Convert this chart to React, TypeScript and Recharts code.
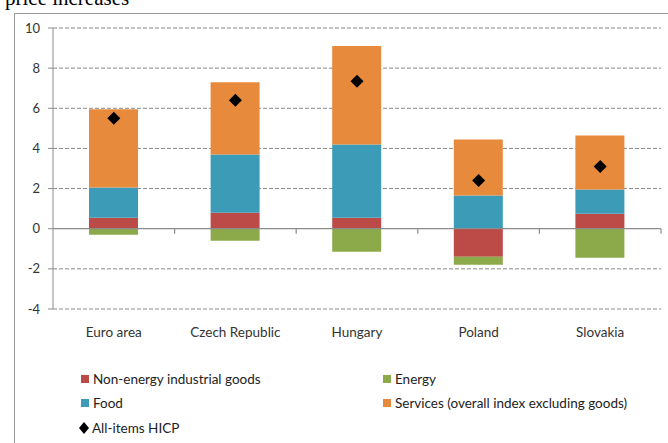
import {
	ComposedChart,
	Bar,
	Line,
	XAxis,
	YAxis,
	CartesianGrid,
	ReferenceLine,
} from "recharts";

const countries = ["Euro area", "Czech Republic", "Hungary", "Poland", "Slovakia"];
const nonEnergy = [0.55, 0.8, 0.55, -1.4, 0.75];
const energy = [-0.3, -0.6, -1.15, -0.4, -1.45];
const food = [1.5, 2.9, 3.65, 1.65, 1.2];
const services = [3.9, 3.6, 4.9, 2.8, 2.7];
const hicp = [5.5, 6.4, 7.35, 2.4, 3.1];
const yTicks = [-4, -2, 0, 2, 4, 6, 8, 10];
const boundaries = [1, 2, 3, 4, 5];

const colors = {
	nonEnergy: "#BC4A47",
	energy: "#8DAA4A",
	food: "#3C9CB8",
	services: "#E88A3C",
	axis: "#8c8c8c",
	text: "#333333",
};

const data = countries.map((name, i) => ({
	name,
	idx: i + 0.5,
	nonEnergy: nonEnergy[i],
	energy: energy[i],
	food: food[i],
	services: services[i],
	hicp: hicp[i],
}));

const font = "Lato, 'Open Sans', sans-serif";

const Diamond = (props: any) => {
	const { cx, cy } = props;
	if (cx == null || cy == null) return null;
	const r = 6.5;
	return (
		<polygon
			points={`${cx},${cy - r} ${cx + r},${cy} ${cx},${cy + r} ${cx - r},${cy}`}
			fill="#000"
		/>
	);
};

const legendItems = [
	{ label: "Non-energy industrial goods", color: colors.nonEnergy, x: 81, y: 380 },
	{ label: "Energy", color: colors.energy, x: 383, y: 380 },
	{ label: "Food", color: colors.food, x: 81, y: 404 },
	{ label: "Services (overall index excluding goods)", color: colors.services, x: 383, y: 404 },
];

export default function App() {
	return (
		<div
			style={{
				position: "absolute",
				left: 0,
				top: 0,
				width: 668,
				height: 443,
				overflow: "hidden",
				background: "#fff",
			}}
		>
			<div
				style={{
					position: "absolute",
					left: 5,
					top: -14,
					fontFamily: "'Liberation Serif', serif",
					fontSize: 21,
					color: "#000",
				}}
			>
				price increases
			</div>
			<div
				style={{
					position: "absolute",
					left: 14,
					top: 13,
					width: 700,
					height: 480,
					border: "1.5px solid #9a9a9a",
					boxSizing: "border-box",
				}}
			/>
			<div style={{ position: "absolute", left: 0, top: 0 }}>
				<ComposedChart
					width={668}
					height={443}
					data={data}
					stackOffset="sign"
					margin={{ top: 28, right: 7, left: 0, bottom: 104 }}
				>
					<CartesianGrid
						horizontal
						vertical={false}
						stroke="#8a8a8a"
						strokeDasharray="4 2"
						horizontalValues={[-4, -2, 2, 4, 6, 8, 10]}
					/>
					<XAxis
						dataKey="name"
						axisLine={false}
						tickLine={false}
						height={30}
						tick={{ fill: colors.text, fontSize: 13.5, fontFamily: font }}
						dy={10}
						interval={0}
					/>
					<XAxis xAxisId="num" type="number" dataKey="idx" domain={[0, 5]} hide />
					<YAxis
						width={53}
						domain={[-4, 10]}
						ticks={yTicks}
						interval={0}
						stroke={colors.axis}
						tickSize={5}
						tickMargin={8}
						tick={{ fill: colors.text, fontSize: 13, fontFamily: font }}
					/>
					<ReferenceLine y={0} stroke={colors.axis} strokeWidth={1.2} />
					{boundaries.map((b) => (
						<ReferenceLine
							key={b}
							xAxisId="num"
							segment={[
								{ x: b, y: 0 },
								{ x: b, y: -0.25 },
							]}
							stroke={colors.axis}
							strokeWidth={1.2}
						/>
					))}
					<Bar dataKey="nonEnergy" stackId="a" fill={colors.nonEnergy} barSize={49} isAnimationActive={false} />
					<Bar dataKey="energy" stackId="a" fill={colors.energy} barSize={49} isAnimationActive={false} />
					<Bar dataKey="food" stackId="a" fill={colors.food} barSize={49} isAnimationActive={false} />
					<Bar dataKey="services" stackId="a" fill={colors.services} barSize={49} isAnimationActive={false} />
					<Line
						dataKey="hicp"
						stroke="none"
						dot={<Diamond />}
						activeDot={false}
						isAnimationActive={false}
					/>
				</ComposedChart>
			</div>
			{legendItems.map((item) => (
				<div
					key={item.label}
					style={{
						position: "absolute",
						left: item.x,
						top: item.y - 9,
						display: "flex",
						alignItems: "center",
						fontFamily: font,
						fontSize: 13.5,
						color: "#222",
					}}
				>
					<span
						style={{
							display: "inline-block",
							width: 8,
							height: 8,
							background: item.color,
							marginRight: 4,
						}}
					/>
					{item.label}
				</div>
			))}
			<div
				style={{
					position: "absolute",
					left: 79,
					top: 420,
					display: "flex",
					alignItems: "center",
					fontFamily: font,
					fontSize: 13.5,
					color: "#222",
				}}
			>
				<svg width={11} height={12} style={{ marginRight: 2 }}>
					<polygon points="5,0 10,6 5,12 0,6" fill="#000" />
				</svg>
				All-items HICP
			</div>
		</div>
	);
}
